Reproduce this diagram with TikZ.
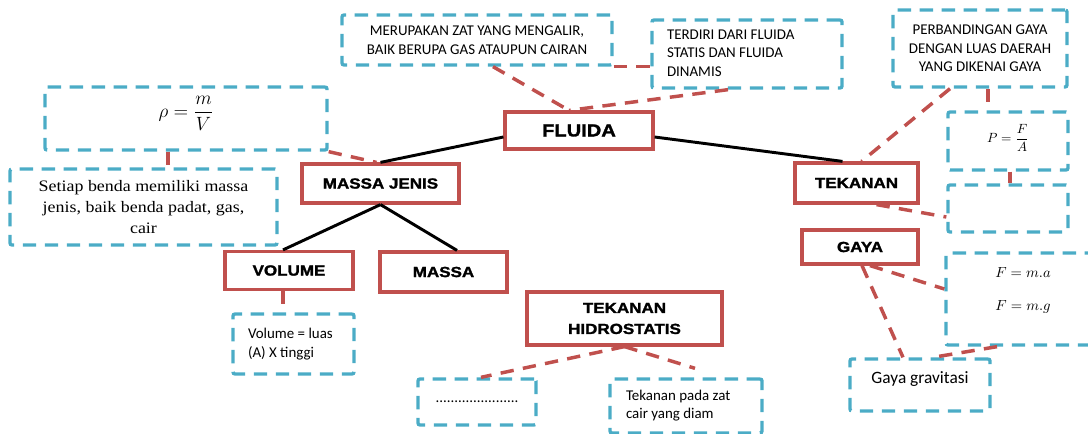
\documentclass[tikz,border=0pt]{standalone}
\usepackage{fontspec}
\usepackage{amsmath}
\usetikzlibrary{calc}
\newfontfamily\heavy{Liberation Sans}[FakeStretch=1.16, BoldFeatures={FakeBold=1.6}]
\newfontfamily\calib{Carlito}
\newfontfamily\cambr{Liberation Serif}[FakeStretch=1.12]
\definecolor{redc}{HTML}{C0504D}
\definecolor{bluec}{HTML}{4BACC6}
\newcommand{\leftblock}[2]{\makebox[\dimexpr #1pt*3/4\relax][l]{\begin{tabular}{@{}l@{}}#2\end{tabular}}}
\tikzset{
 px/.style 2 args={minimum width=#1*0.75pt, minimum height=#2*0.75pt},
 rbox/.style={draw=redc, line width=2.4pt, fill=white, inner sep=0pt, align=center, font=\heavy\bfseries\fontsize{11}{15.75}\selectfont},
 bbox/.style={draw=bluec, line width=2.5pt, dash pattern=on 10pt off 6.5pt, rounded corners=1.5pt, inner sep=0pt, align=center, font=\calib\fontsize{11.2}{13.9}\selectfont},
 rdash/.style={draw=redc, line width=2.6pt, dash pattern=on 10pt off 7pt},
 bline/.style={draw=black, line width=2.2pt},
}
\begin{document}
\begin{tikzpicture}[x=0.75pt,y=-0.75pt]
\useasboundingbox (0,0) rectangle (1088,434);
% main red nodes
\node[rbox,px={148}{37},font=\heavy\bfseries\fontsize{13}{15}\selectfont] (fluida) at (579,130.5) {FLUIDA};
\node[rbox,px={157}{39}] (mj) at (380.5,183.5) {MASSA JENIS};
\node[rbox,px={123}{40}] (tek) at (856.5,183) {TEKANAN};
\node[rbox,px={128}{38}] (vol) at (289,270.5) {VOLUME};
\node[rbox,px={127}{40}] (massa) at (443.5,272) {MASSA};
\node[rbox,px={195}{53}] (hidro) at (624.5,318.5) {TEKANAN\\HIDROSTATIS};
\node[rbox,px={116}{34}] (gaya) at (860,247) {GAYA};
% blue dashed boxes
\node[bbox,px={270}{50}] (meru) at (477,40) {MERUPAKAN ZAT YANG MENGALIR,\\BAIK BERUPA GAS ATAUPUN CAIRAN};
\node[bbox,px={190}{68}] (terdiri) at (747,54) {\leftblock{160}{TERDIRI DARI FLUIDA\\STATIS DAN FLUIDA\\DINAMIS}};
\node[bbox,px={174}{77}] (perb) at (980,48.5) {PERBANDINGAN GAYA\\DENGAN LUAS DAERAH\\YANG DIKENAI GAYA};
\node[bbox,px={120}{58},font=\fontsize{10}{11}\selectfont] (pfa) at (1008,141) {\raisebox{2pt}[\height][\depth]{$P=\dfrac{F}{A}$}};
\node[bbox,px={120}{47}] (empty) at (1008,208.5) {};
\node[bbox,px={154}{92}] (fbox) at (1023,299) {};
\node[font=\fontsize{11}{13}\selectfont, align=center, inner sep=0pt] (fmath) at (1023,290.5) {$F=m.a$\\[12pt]$F=m.g$};
\node[bbox,px={140}{52},font=\calib\fontsize{13}{15}\selectfont] (gg) at (920,385) {\raisebox{4.5pt}[\height][\depth]{Gaya gravitasi}};
\node[bbox,px={282}{63},font=\fontsize{14}{16}\selectfont] (rho) at (186,118.5) {\raisebox{4pt}[\height][\depth]{$\rho=\dfrac{m}{V}$}};
\node[bbox,px={267}{76},font=\cambr\fontsize{12}{16}\selectfont] (setiap) at (143.5,207) {Setiap benda memiliki massa\\jenis, baik benda padat, gas,\\cair};
\node[bbox,px={121}{60},font=\calib\fontsize{11.2}{14.25}\selectfont] (volbox) at (293.5,344) {\leftblock{91}{Volume = luas\\(A) X tinggi}};
\node[bbox,px={118}{46}] (dotbox) at (477,402) {......................};
\node[bbox,px={152}{54}] (tpz) at (686,406) {\leftblock{120}{Tekanan pada zat\\cair yang diam}};
% red dashed connectors
\draw[rdash] ($(meru.south)+(16,0)$) -- ($(fluida.north)+(-10,0)$);
\draw[rdash] ($(terdiri.south)+(-19,0)$) -- ($(fluida.north)+(-10,0)$);
\draw[rdash] (meru.south east) -- (meru.south east -| terdiri.west);
\draw[rdash] (rho.south east) -- ($(mj.north)+(-4,0)$);
\coordinate (r1) at ($(rho.south)+(-18,0)$);
\draw[rdash] (r1) -- (r1 |- setiap.north);
\coordinate (v1) at ($(vol.south)+(-6,0)$);
\draw[rdash] (v1) -- (v1 |- volbox.north);
\draw[rdash] ($(perb.south)+(-30,0)$) -- ($(tek.north)+(5,0)$);
\coordinate (p1) at ($(perb.south)+(8,0)$);
\draw[rdash] (p1) -- (p1 |- pfa.north);
\coordinate (p2) at ($(pfa.south)+(2,0)$);
\draw[rdash] (p2) -- (p2 |- empty.north);
\draw[rdash] ($(tek.south)+(20,0)$) -- ($(empty.west)+(0,8.5)$);
\draw[rdash] ($(gaya.south)+(10,0)$) -- ($(fbox.west)+(0,-10)$);
\draw[rdash] ($(gaya.south)+(2,0)$) -- ($(gg.north)+(-17,0)$);
\draw[rdash] ($(fbox.south)+(-26,0)$) -- ($(gg.north)+(13,0)$);
\draw[rdash] (hidro.south) -- ($(dotbox.north)+(4,0)$);
\draw[rdash] (hidro.south) -- ($(tpz.north)+(9,-9)$);
% black solid connectors
\draw[bline] ($(fluida.west)+(0,6.5)$) -- (mj.north);
\draw[bline] ($(fluida.east)+(0,6.5)$) -- ($(tek.north)+(-14,0)$);
\draw[bline] (mj.south) -- ($(vol.north)+(-6,0)$);
\draw[bline] (mj.south) -- ($(massa.north)+(13.5,0)$);
\end{tikzpicture}
\end{document}
